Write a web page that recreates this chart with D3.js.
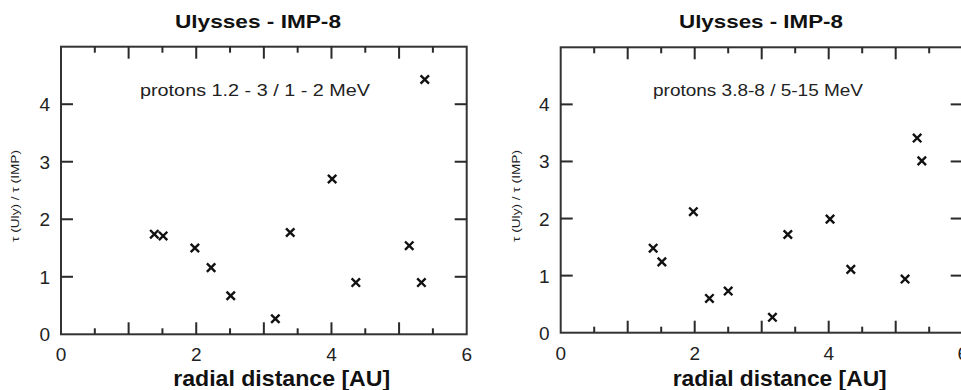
<!DOCTYPE html>
<html>
<head>
<meta charset="utf-8">
<script src="https://cdn.jsdelivr.net/npm/d3@7"></script>
<style>
  body { margin: 0; background: #fff; }
  svg { display: block; font-family: "Liberation Sans", Arial, sans-serif; }
</style>
</head>
<body>
<svg id="chart" width="961" height="390"></svg>
<script>
// radial distance [AU] and tau ratio
const leftDist  = [1.38, 1.51, 1.98, 2.22, 2.51, 3.17, 3.39, 4.01, 4.36, 5.15, 5.33, 5.38];
const leftRatio = [1.74, 1.71, 1.50, 1.16, 0.67, 0.27, 1.77, 2.70, 0.90, 1.54, 0.90, 4.43];
const rightDist  = [1.38, 1.51, 1.98, 2.22, 2.50, 3.16, 3.39, 4.02, 4.33, 5.14, 5.32, 5.39];
const rightRatio = [1.48, 1.24, 2.12, 0.60, 0.73, 0.27, 1.72, 1.99, 1.11, 0.94, 3.41, 3.01];

const xMajor = [1, 2, 3, 4, 5];
const xMinor = [0.5, 1.5, 2.5, 3.5, 4.5, 5.5];
const xLabels = [0, 2, 4, 6];
const yMajor = [1, 2, 3, 4];
const yLabels = [0, 1, 2, 3, 4];

const titleText = 'Ulysses - IMP-8';
const xTitle = 'radial distance [AU]';
const yTitle = 'τ (Uly) / τ (IMP)';
const notes = ['protons 1.2 - 3 / 1 - 2 MeV', 'protons 3.8-8 / 5-15 MeV'];

const svg = d3.select('#chart');

const panels = [
  { x: leftDist, y: leftRatio, note: notes[0],
    l: 61, r: 466.7, t: 46.7, b: 334.3,
    titleX: 258, titleW: 166, noteX: 255, noteW: 230, xtX: 281.7, xtW: 217, ylX: 15 },
  { x: rightDist, y: rightRatio, note: notes[1],
    l: 560.7, r: 962.7, t: 47.3, b: 332.7,
    titleX: 761, titleW: 164, noteX: 758, noteW: 210, xtX: 779.7, xtW: 214, ylX: 516 }
];

panels.forEach(p => {
  const x = d3.scaleLinear().domain([0, 6]).range([p.l, p.r]);
  const y = d3.scaleLinear().domain([0, 5]).range([p.b, p.t]);
  const g = svg.append('g');

  // frame
  g.append('rect')
    .attr('x', p.l).attr('y', p.t)
    .attr('width', p.r - p.l).attr('height', p.b - p.t)
    .attr('fill', 'none').attr('stroke', '#333').attr('stroke-width', 2);

  // tick marks, one small rect each, all pointing into the frame
  const tickRects = [];
  xMajor.forEach(v => { tickRects.push([x(v) - 1, p.b - 12, 2, 12]); tickRects.push([x(v) - 1, p.t, 2, 12]); });
  xMinor.forEach(v => { tickRects.push([x(v) - 1, p.b - 6, 2, 6]); tickRects.push([x(v) - 1, p.t, 2, 6]); });
  yMajor.forEach(v => { tickRects.push([p.l, y(v) - 1, 12, 2]); tickRects.push([p.r - 12, y(v) - 1, 12, 2]); });
  g.append('g').selectAll('rect').data(tickRects).join('rect')
    .attr('x', d => d[0]).attr('y', d => d[1])
    .attr('width', d => d[2]).attr('height', d => d[3])
    .attr('fill', '#2a2a2a');

  // tick labels
  g.append('g').selectAll('text').data(xLabels).join('text')
    .attr('x', d => x(d)).attr('y', p.b + 27)
    .attr('text-anchor', 'middle').attr('font-size', 19).attr('fill', '#222')
    .text(d => d);
  g.append('g').selectAll('text').data(yLabels).join('text')
    .attr('x', p.l - 11).attr('y', d => y(d) + 7)
    .attr('text-anchor', 'end').attr('font-size', 19).attr('fill', '#222')
    .text(d => d);

  // cross markers
  const pts = p.x.map((d, i) => [x(d), y(p.y[i])]);
  const s = 4.2;
  g.append('g').selectAll('path').data(pts).join('path')
    .attr('d', d => `M${d[0] - s},${d[1] - s}L${d[0] + s},${d[1] + s}M${d[0] - s},${d[1] + s}L${d[0] + s},${d[1] - s}`)
    .attr('stroke', '#111').attr('stroke-width', 2.4).attr('fill', 'none');

  // texts
  g.append('text').attr('x', p.titleX).attr('y', 28)
    .attr('text-anchor', 'middle').attr('font-weight', 'bold').attr('font-size', 19)
    .attr('textLength', p.titleW).attr('lengthAdjust', 'spacingAndGlyphs').attr('fill', '#111')
    .text(titleText);
  g.append('text').attr('x', p.noteX).attr('y', 96)
    .attr('text-anchor', 'middle').attr('font-size', 16)
    .attr('textLength', p.noteW).attr('lengthAdjust', 'spacingAndGlyphs').attr('fill', '#222')
    .text(p.note);
  g.append('text').attr('x', p.xtX).attr('y', 386)
    .attr('text-anchor', 'middle').attr('font-weight', 'bold').attr('font-size', 22)
    .attr('textLength', p.xtW).attr('lengthAdjust', 'spacingAndGlyphs').attr('fill', '#111')
    .text(xTitle);
  g.append('text')
    .attr('transform', `translate(${p.ylX},196) rotate(-90)`)
    .attr('dy', '0.35em')
    .attr('text-anchor', 'middle').attr('font-size', 10)
    .attr('textLength', 92).attr('lengthAdjust', 'spacingAndGlyphs').attr('fill', '#222')
    .text(yTitle);
});
</script>
</body>
</html>
